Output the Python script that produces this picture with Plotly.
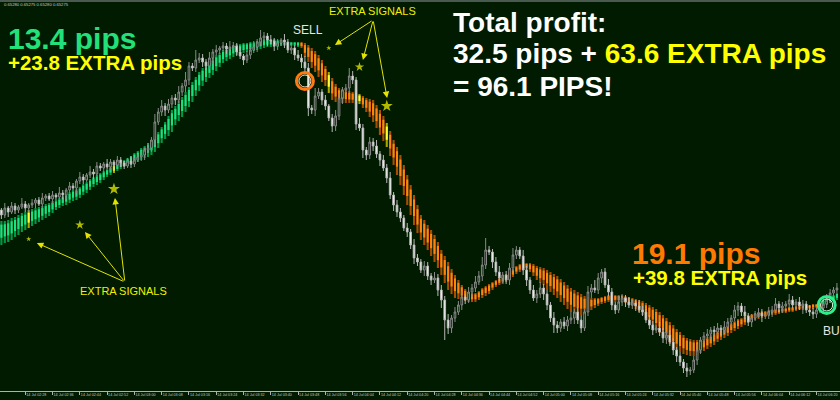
import plotly.graph_objects as go

# ---------------- data (1-minute candles, 14 Jul 02:20 -> 06:26) ----------------
BASE_PRICE = 0.65168
POINT = 0.00001

# close levels, in points above BASE_PRICE, one per minute
closes = [
    190, 185, 192, 188, 194, 190, 193, 196, 192, 195,
    197, 200, 196, 202, 204, 201, 205, 203, 207, 205,
    210, 214, 212, 219, 223, 220, 225, 228, 226, 234,
    232, 236, 233, 238, 235, 240, 237, 234, 239, 236,
    240, 243, 245, 250, 252, 260, 278, 288, 294, 290,
    296, 302, 300, 308, 314, 320, 334, 332, 340, 342,
    338, 334, 342, 348, 350, 352, 354, 351, 353, 354,
    348, 344, 340, 345, 350, 353, 358, 362, 364, 360,
    359, 354, 357, 360, 358, 350, 352, 345, 342, 338,
    332, 292, 290, 304, 308, 300, 294, 282, 274, 284,
    302, 310, 312, 324, 320, 276, 272, 250, 245, 258,
    254, 246, 240, 232, 222, 205, 195, 188, 182, 172,
    168, 155, 142, 138, 130, 134, 124, 120, 122, 110,
    100, 80, 72, 82, 88, 95, 103, 100, 108, 112,
    118, 124, 135, 150, 148, 138, 128, 122, 125, 120,
    132, 145, 150, 144, 130, 120, 110, 102, 106, 112,
    106, 95, 82, 75, 72, 78, 74, 80, 82, 88,
    80, 72, 88, 108, 112, 110, 122, 128, 115, 108,
    95, 90, 98, 102, 98, 95, 97, 94, 90, 88,
    80, 75, 70, 72, 68, 62, 65, 58, 50, 44,
    38, 32, 29, 30, 40, 50, 60, 64, 66, 70,
    68, 72, 70, 73, 78, 82, 90, 94, 88, 84,
    78, 82, 86, 87, 84, 85, 88, 90, 96, 92,
    94, 96, 100, 95, 98, 94, 96, 90, 88, 86,
    90, 92, 96, 100, 107, 110, 112,
]
first_open = 192

upper_wick = [
    3, 2, 5, 2, 4, 3, 2, 6, 3, 2,
    4, 2, 3, 5, 2, 3, 4, 2, 6, 3,
    2, 4, 3, 2, 5, 3, 2, 6, 3, 4,
    3, 2, 5, 3, 2, 4, 3, 2, 3, 5,
    2, 3, 4, 2, 5, 3, 8, 4, 6, 3,
    5, 3, 4, 6, 3, 8, 4, 3, 10, 5,
    4, 3, 6, 3, 5, 2, 4, 3, 6, 4,
    3, 5, 2, 4, 3, 6, 3, 8, 4, 3,
    5, 3, 4, 2, 6, 3, 4, 3, 5, 4,
    6, 5, 3, 8, 4, 3, 5, 2, 4, 6,
    5, 3, 4, 8, 5, 3, 6, 4, 3, 5,
    4, 6, 3, 5, 4, 6, 3, 5, 4, 3,
    5, 3, 6, 4, 3, 5, 4, 3, 6, 4,
    5, 4, 6, 3, 5, 4, 6, 3, 5, 4,
    6, 5, 8, 12, 4, 3, 5, 6, 3, 4,
    5, 7, 4, 3, 6, 4, 3, 5, 4, 6,
    4, 5, 3, 6, 4, 3, 5, 4, 6, 3,
    4, 5, 3, 6, 4, 8, 5, 3, 4, 6,
    4, 3, 6, 4, 3, 5, 4, 3, 6, 4,
    3, 5, 4, 3, 6, 4, 3, 5, 4, 3,
    4, 3, 5, 3, 4, 6, 3, 4, 5, 3,
    4, 5, 3, 6, 4, 3, 5, 4, 3, 6,
    3, 4, 3, 5, 4, 3, 5, 4, 6, 3,
    4, 3, 6, 4, 3, 5, 4, 3, 5, 4,
    3, 4, 5, 6, 4, 3, 5,
]
lower_wick = [
    2, 4, 3, 5, 2, 4, 3, 2, 4, 3,
    3, 5, 2, 4, 3, 2, 5, 3, 2, 4,
    4, 3, 2, 5, 3, 4, 2, 3, 5, 2,
    3, 4, 2, 3, 5, 2, 4, 3, 2, 4,
    3, 2, 4, 5, 3, 4, 5, 3, 4, 6,
    3, 4, 5, 3, 4, 6, 5, 3, 4, 3,
    5, 4, 3, 6, 3, 4, 3, 5, 3, 4,
    4, 3, 5, 3, 4, 3, 5, 3, 4, 6,
    3, 5, 4, 3, 6, 3, 4, 5, 3, 6,
    5, 8, 4, 6, 3, 5, 4, 3, 6, 5,
    4, 6, 3, 5, 4, 6, 3, 8, 5, 4,
    5, 4, 6, 3, 5, 4, 6, 5, 4, 3,
    5, 4, 6, 4, 3, 6, 4, 5, 3, 6,
    8, 20, 6, 5, 4, 3, 5, 4, 3, 5,
    4, 3, 5, 4, 3, 6, 4, 3, 5, 4,
    5, 3, 4, 3, 5, 6, 4, 3, 5, 4,
    6, 5, 4, 8, 5, 4, 3, 5, 4, 6,
    4, 5, 3, 4, 6, 3, 4, 5, 3, 4,
    5, 4, 3, 4, 5, 3, 4, 5, 3, 4,
    3, 4, 5, 3, 4, 5, 6, 4, 5, 6,
    4, 5, 6, 4, 3, 5, 4, 3, 4, 5,
    3, 4, 5, 3, 4, 5, 3, 6, 4, 3,
    4, 5, 3, 4, 6, 3, 4, 5, 3, 4,
    5, 3, 4, 3, 5, 4, 8, 3, 4, 5,
    4, 3, 5, 4, 3, 4, 3,
]

# trend indicator band (top / bottom levels, points above BASE_PRICE)
band_top = [
    178, 179, 179, 180, 182, 183, 185, 187, 188, 190,
    191, 192, 193, 194, 196, 197, 199, 200, 202, 204,
    206, 208, 210, 211, 213, 216, 218, 221, 223, 225,
    227, 229, 231, 233, 235, 236, 238, 240, 242, 244,
    247, 249, 252, 254, 257, 260, 264, 268, 273, 278,
    284, 290, 294, 299, 303, 308, 313, 318, 323, 328,
    332, 335, 339, 342, 345, 347, 350, 352, 353, 355,
    356, 356, 357, 357, 358, 358, 359, 360, 361, 361,
    361, 361, 360, 359, 358, 358, 358, 358, 358, 358,
    357, 355, 352, 349, 345, 340, 334, 328, 322, 316,
    312, 311, 310, 309, 308, 307, 306, 304, 302, 301,
    300, 295, 290, 284, 277, 269, 260, 253, 245, 235,
    225, 215, 205, 195, 185, 180, 175, 170, 165, 158,
    150, 144, 138, 131, 125, 120, 115, 111, 108, 107,
    107, 109, 112, 114, 116, 118, 120, 122, 124, 126,
    128, 131, 134, 136, 137, 137, 137, 136, 134, 133,
    132, 130, 128, 126, 124, 121, 118, 115, 112, 110,
    108, 106, 104, 103, 102, 102, 102, 103, 104, 105,
    105, 105, 105, 105, 104, 103, 102, 101, 100, 99,
    97, 95, 93, 91, 88, 85, 82, 78, 75, 71,
    68, 65, 62, 61, 60, 60, 60, 61, 63, 65,
    67, 69, 71, 73, 75, 77, 79, 81, 82, 84,
    85, 86, 87, 88, 89, 89, 90, 90, 91, 91,
    92, 92, 93, 93, 94, 94, 95, 95, 95, 96,
    96, 97, 100, 102, 104, 105, 107,
]
band_bot = [
    154, 155, 157, 158, 160, 163, 165, 168, 170, 172,
    174, 176, 178, 180, 182, 184, 187, 190, 192, 194,
    195, 197, 199, 200, 202, 205, 207, 210, 213, 215,
    217, 220, 223, 225, 227, 229, 231, 233, 234, 235,
    237, 238, 240, 242, 243, 245, 248, 252, 257, 261,
    264, 268, 275, 279, 283, 288, 293, 298, 304, 309,
    314, 318, 322, 325, 329, 333, 337, 339, 341, 343,
    345, 346, 347, 348, 348, 349, 350, 351, 352, 353,
    353, 353, 353, 354, 354, 354, 354, 354, 353, 352,
    343, 338, 332, 328, 323, 318, 314, 307, 300, 298,
    297, 297, 297, 297, 297, 296, 296, 292, 288, 283,
    278, 272, 265, 259, 253, 244, 235, 225, 215, 205,
    195, 185, 175, 167, 160, 155, 150, 144, 138, 132,
    125, 117, 110, 106, 102, 101, 100, 99, 98, 98,
    98, 100, 102, 104, 106, 110, 113, 115, 116, 118,
    120, 123, 126, 128, 130, 130, 128, 124, 120, 117,
    115, 111, 108, 105, 102, 98, 95, 91, 88, 86,
    85, 85, 86, 88, 90, 92, 94, 96, 97, 98,
    98, 98, 98, 98, 97, 96, 94, 91, 88, 85,
    82, 78, 75, 71, 67, 63, 60, 56, 52, 50,
    48, 46, 45, 44, 44, 45, 47, 49, 51, 53,
    55, 58, 60, 62, 64, 67, 69, 71, 73, 75,
    77, 79, 80, 81, 82, 83, 84, 85, 85, 86,
    87, 87, 88, 88, 89, 90, 90, 90, 91, 91,
    92, 92, 94, 95, 97, 99, 100,
]
sell_phase_start = 89     # first bar of the orange (sell) phase
buy_phase_start = 242     # first bar of the green (buy) phase at the right
yellow_bars = [9, 34, 97, 106, 114]

# extra signals (stars)
signal_bars = [9, 24, 34, 97, 106, 114]
signal_levels = [161, 175, 211, 352, 333, 294]
signal_sizes = [4, 7, 9, 4, 7, 9]

# entries (circles): sell, buy
entry_bars = [90, 243]
entry_levels = [319, 95]

tick_minutes = [0, 8, 16, 24, 32, 40, 48, 56, 64, 72, 80, 88, 96, 104, 112, 120,
                128, 136, 144, 152, 160, 168, 176, 184, 192, 200, 208, 216, 224, 232, 240]
tick_labels = ["14 Jul 02:20", "14 Jul 02:28", "14 Jul 02:36", "14 Jul 02:44", "14 Jul 02:52",
               "14 Jul 03:00", "14 Jul 03:08", "14 Jul 03:16", "14 Jul 03:24", "14 Jul 03:32",
               "14 Jul 03:40", "14 Jul 03:48", "14 Jul 03:56", "14 Jul 04:04", "14 Jul 04:12",
               "14 Jul 04:20", "14 Jul 04:28", "14 Jul 04:36", "14 Jul 04:44", "14 Jul 04:52",
               "14 Jul 05:00", "14 Jul 05:08", "14 Jul 05:16", "14 Jul 05:24", "14 Jul 05:32",
               "14 Jul 05:40", "14 Jul 05:48", "14 Jul 05:56", "14 Jul 06:04", "14 Jul 06:12",
               "14 Jul 06:20"]
header_text = "0.65280 0.65275 0.65280 0.65275"

n = len(closes)
for arr in (upper_wick, lower_wick, band_top, band_bot):
    assert len(arr) == n, len(arr)

# ---------------- build ----------------
BG = "#001b00"
W, H = 840, 400
PLOT_TOP, PLOT_BOT = 2, 391


def price(v):
    return BASE_PRICE + v * POINT


def paper(xp, yp):
    return xp / W, (PLOT_BOT - yp) / (PLOT_BOT - PLOT_TOP)


minutes = list(range(n))
opens = [first_open] + closes[:-1]
highs = [price(max(o, c) + u) for o, c, u in zip(opens, closes, upper_wick)]
lows = [price(min(o, c) - l) for o, c, l in zip(opens, closes, lower_wick)]

outer_cols, inner_cols = [], []
for i in range(n):
    if i in yellow_bars:
        outer_cols.append("#a8a800"); inner_cols.append("#ffff30")
    elif i < sell_phase_start or i >= buy_phase_start:
        outer_cols.append("#009a45"); inner_cols.append("#1ee07c")
    else:
        outer_cols.append("#a84e00"); inner_cols.append("#ff8410")

fig = go.Figure()
fig.add_trace(go.Bar(
    x=minutes, base=[price(b) for b in band_bot],
    y=[(t - b) * POINT for t, b in zip(band_top, band_bot)],
    width=0.62, marker=dict(color=outer_cols, line=dict(width=0)), hoverinfo="skip"))
fig.add_trace(go.Bar(
    x=minutes, base=[price(b + 0.3 * (t - b)) for t, b in zip(band_top, band_bot)],
    y=[0.55 * (t - b) * POINT for t, b in zip(band_top, band_bot)],
    width=0.62, marker=dict(color=inner_cols, line=dict(width=0)), hoverinfo="skip"))

fig.add_trace(go.Candlestick(
    x=minutes, open=[price(v) for v in opens], high=highs, low=lows,
    close=[price(v) for v in closes],
    increasing=dict(line=dict(color="#8a8a8a", width=1), fillcolor=BG),
    decreasing=dict(line=dict(color="#b8b8b8", width=1), fillcolor="#ffffff"),
    whiskerwidth=0, hoverinfo="skip"))

fig.add_trace(go.Scatter(
    x=signal_bars, y=[price(v) for v in signal_levels], mode="markers",
    marker=dict(symbol="star", size=signal_sizes, color="#ffff00", line=dict(width=0)),
    hoverinfo="skip"))

ring_cols = ["#ff7a10", "#2cf08c"]
ring_inner = ["#ffe2c8", "#d8ffe8"]
fig.add_trace(go.Scatter(
    x=entry_bars, y=[price(v) for v in entry_levels], mode="markers",
    marker=dict(symbol="circle-open", size=17, color=ring_cols, line=dict(width=3, color=ring_cols)),
    hoverinfo="skip"))
fig.add_trace(go.Scatter(
    x=entry_bars, y=[price(v) for v in entry_levels], mode="markers",
    marker=dict(symbol="circle-open", size=12, color=ring_inner, line=dict(width=1, color=ring_inner)),
    hoverinfo="skip"))

annotations = []
FONT = "Liberation Sans"


def text(t, xp, yp, size, color, bold=True, family=FONT):
    px, py = paper(xp, yp)
    annotations.append(dict(
        text=f"<b>{t}</b>" if bold else t, x=px, y=py, xref="paper", yref="paper",
        xanchor="left", yanchor="middle", showarrow=False, borderpad=0,
        font=dict(family=family, size=size, color=color)))


text("13.4 pips", 7, 38.5, 30, "#22e07a")
text("+23.8 EXTRA pips", 7, 62.5, 20.5, "#ffff00")
text("Total profit:", 452, 22.5, 28, "#ffffff")
text("32.5 pips + <span style='color:#ffff00'>63.6 EXTRA pips</span>", 452, 54, 28, "#ffffff")
text("= 96.1 PIPS!", 452, 86.5, 28, "#ffffff")
text("19.1 pips", 631, 253, 30, "#ff7a00")
text("+39.8 EXTRA pips", 632, 277, 20.5, "#ffff00")
text("SELL", 292, 30, 12, "#e6e6e6", bold=False)
text("BUY", 822, 331, 12, "#e6e6e6", bold=False)
text("EXTRA SIGNALS", 328, 11.5, 11, "#f0f000", bold=False)
text("EXTRA SIGNALS", 79, 291, 11, "#f0f000", bold=False)
text(header_text, 3, 5, 4.2, "#c8c8c8", bold=False)

# arrows from labels to the extra signals (head bar, head level, tail bar, tail level)
arrows = [
    (11.4, 157, 37.2, 118), (25.5, 168, 37.2, 118), (34.3, 202, 37.2, 118),
    (98.8, 355, 110.0, 380), (107.0, 340, 110.0, 380), (114.1, 302, 110.0, 380),
]
for hx, hy, tx, ty in arrows:
    annotations.append(dict(
        x=hx, y=price(hy), ax=tx, ay=price(ty), xref="x", yref="y", axref="x", ayref="y",
        text="", showarrow=True, arrowhead=2, arrowsize=1.3, arrowwidth=1,
        arrowcolor="#e4e400", standoff=0, startstandoff=0))

fig.update_layout(
    width=W, height=H, margin=dict(l=0, r=0, t=PLOT_TOP, b=H - PLOT_BOT),
    paper_bgcolor=BG, plot_bgcolor=BG, showlegend=False, barmode="overlay",
    annotations=annotations,
    shapes=[dict(type="line", xref="paper", yref="paper", x0=0, x1=1,
                 y0=1 + 1 / (PLOT_BOT - PLOT_TOP), y1=1 + 1 / (PLOT_BOT - PLOT_TOP),
                 line=dict(color="#4a5a50", width=2))],
    xaxis=dict(range=[0.59, 246.9], tickvals=tick_minutes, ticktext=tick_labels,
               ticks="outside", ticklen=3, tickwidth=1, tickcolor="#b0b0b0", tickangle=0,
               showline=True, linecolor="#b0b0b0", linewidth=1, showgrid=False,
               zeroline=False, ticklabelposition="outside right", automargin=False,
               tickfont=dict(family="Liberation Sans", size=3.7, color="#c8c8c8"),
               rangeslider=dict(visible=False), fixedrange=True),
    yaxis=dict(range=[price(400 - PLOT_BOT), price(400 - PLOT_TOP)], visible=False,
               fixedrange=True),
)

fig.write_html("out.html", config={"displayModeBar": False},
               post_script="document.body.style.margin='0';document.body.style.overflow='hidden';")
